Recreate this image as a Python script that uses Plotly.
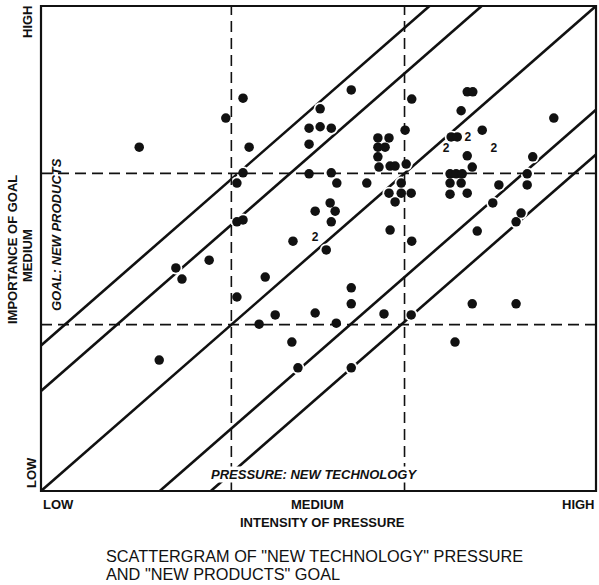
import plotly.graph_objects as go

# Intensity of pressure (x: 0 = LOW, 100 = HIGH) and importance of goal (y)
pressure = [36.4, 33.3, 17.7, 37.5, 36.4, 35.3, 35.3, 36.4, 30.3, 24.3,
            25.4, 40.4, 35.3, 39.3, 21.3, 55.9, 66.8, 50.3, 48.3, 50.3,
            52.3, 65.6, 48.3, 60.7, 62.7, 60.7, 62.0, 60.7, 60.9, 62.9,
            63.8, 65.8, 48.3, 52.3, 53.3, 58.7, 64.9, 62.7, 64.9, 66.7,
            63.8, 52.1, 49.4, 53.0, 52.3, 62.9, 45.4, 51.4, 66.8, 55.9,
            55.9, 42.2, 49.4, 53.2, 61.8, 66.7, 45.2, 46.3, 55.9, 77.7,
            85.6, 74.6, 76.8, 77.8, 75.7, 92.4, 79.5, 73.9, 75.0, 76.8,
            88.6, 77.7, 73.7, 74.8, 75.9, 87.6, 73.7, 75.7, 87.6, 82.5,
            73.7, 76.8, 81.4, 86.5, 85.6, 78.6]
importance = [81.0, 76.9, 70.9, 70.9, 65.6, 63.5, 55.5, 55.9, 47.6, 46.0,
              43.7, 44.1, 40.0, 34.4, 27.0, 82.7, 80.8, 78.8, 74.8, 75.1,
              74.8, 74.4, 71.5, 72.8, 72.8, 70.9, 70.9, 68.9, 66.8, 67.0,
              67.0, 67.4, 65.4, 65.6, 63.5, 63.5, 63.5, 61.4, 61.4, 61.4,
              59.6, 59.4, 57.7, 57.7, 55.5, 53.8, 51.5, 49.7, 51.5, 41.9,
              38.6, 36.3, 36.7, 34.6, 36.5, 36.3, 30.7, 25.4, 25.4, 38.6,
              38.6, 30.7, 82.3, 82.3, 78.4, 76.9, 74.4, 73.0, 73.0, 69.1,
              68.9, 66.8, 65.4, 65.4, 65.4, 65.4, 63.5, 63.5, 63.1, 63.1,
              61.2, 61.4, 59.4, 57.3, 55.5, 53.6]

# Positions where two cases coincide (plotted as "2")
double_pressure = [49.4, 76.9, 73.0, 81.6]
double_importance = [52.2, 72.8, 70.5, 70.5]
double_label = ["2", "2", "2", "2"]

# Diagonal band offsets and medium boundaries
band_offsets = [30.0, 20.6, 0.0, -21.4, -30.6]
medium_low = 34.3
medium_high = 65.5

x_labels = ["LOW", "MEDIUM", "HIGH"]
y_labels = ["LOW", "MEDIUM", "HIGH"]

FONT = "Liberation Sans"
BLACK = "#111111"

fig = go.Figure()

# diagonal band lines
for c in band_offsets:
    if c >= 0:
        xs, ys = [0, 100 - c], [c, 100]
    else:
        xs, ys = [-c, 100], [0, 100 + c]
    fig.add_trace(go.Scatter(x=xs, y=ys, mode="lines",
                             line=dict(color=BLACK, width=2.6),
                             hoverinfo="skip", showlegend=False))

# white halo around dots (breaks the lines near points)
fig.add_trace(go.Scatter(x=pressure, y=importance, mode="markers",
                         marker=dict(size=13, color="white"),
                         hoverinfo="skip", showlegend=False))

# dashed medium boundaries
for v in (medium_low, medium_high):
    fig.add_trace(go.Scatter(x=[v, v], y=[0, 100], mode="lines",
                             line=dict(color=BLACK, width=1.6, dash="11px,6px"),
                             hoverinfo="skip", showlegend=False))
    fig.add_trace(go.Scatter(x=[0, 100], y=[v, v], mode="lines",
                             line=dict(color=BLACK, width=1.6, dash="11px,6px"),
                             hoverinfo="skip", showlegend=False))

# the points
fig.add_trace(go.Scatter(x=pressure, y=importance, mode="markers",
                         marker=dict(size=9.5, color=BLACK),
                         showlegend=False))
fig.add_trace(go.Scatter(x=double_pressure, y=double_importance, mode="text",
                         text=double_label,
                         textfont=dict(family=FONT, size=12, color=BLACK,
                                       weight="bold"),
                         showlegend=False))

FIG_W, FIG_H = 599, 585
L, T, W, H = 41, 6, 555, 485


def px(x):
    return (x - L) / W


def py(y):
    return (T + H - y) / H


ann = []


def add(text, x, y, size=13, xa="center", ya="middle", angle=0,
        bold=True, italic=False, bg=None):
    t = text
    if bold:
        t = "<b>" + t + "</b>"
    if italic:
        t = "<i>" + t + "</i>"
    d = dict(text=t, x=px(x), y=py(y), xref="paper", yref="paper",
             xanchor=xa, yanchor=ya, showarrow=False, textangle=angle,
             font=dict(family=FONT, size=size, color=BLACK))
    if bg:
        d["bgcolor"] = bg
        d["borderpad"] = 0
    ann.append(d)


# x axis labels
add(x_labels[0], 41, 505, xa="left")
add(x_labels[1], 317, 505)
add(x_labels[2], 597, 505, xa="right")
add("INTENSITY OF PRESSURE", 322, 522)

# y axis labels
add(y_labels[2], 28, 22, angle=-90)
add(y_labels[1], 28, 256, angle=-90)
add(y_labels[0], 31, 473, angle=-90)
add("IMPORTANCE OF GOAL", 12, 250, angle=-90)

# inside labels
add("PRESSURE: NEW TECHNOLOGY", 314, 474, italic=True, bg="white")
add("GOAL: NEW PRODUCTS", 56, 235, italic=True, angle=-90)

# caption
add("SCATTERGRAM OF \"NEW TECHNOLOGY\" PRESSURE", 104, 556, size=16.3,
    xa="left", bold=False)
add("AND \"NEW PRODUCTS\" GOAL", 104, 574, size=16.3, xa="left", bold=False)

fig.update_layout(
    width=FIG_W, height=FIG_H,
    margin=dict(l=L, r=FIG_W - L - W, t=T, b=FIG_H - T - H, pad=0),
    paper_bgcolor="white", plot_bgcolor="white",
    xaxis=dict(range=[0, 100], visible=False, fixedrange=True),
    yaxis=dict(range=[0, 100], visible=False, fixedrange=True),
    annotations=ann,
    shapes=[dict(type="rect", xref="paper", yref="paper", x0=0, y0=0,
                 x1=1, y1=1, line=dict(color=BLACK, width=2.2))],
    font=dict(family=FONT, color=BLACK),
    hovermode=False,
)

# remove the default page margin so the 599x585 figure fills the window
fig.write_html("out.html",
               config={"displayModeBar": False},
               post_script="document.body.style.margin='0';"
                           "document.body.style.overflow='hidden';")
